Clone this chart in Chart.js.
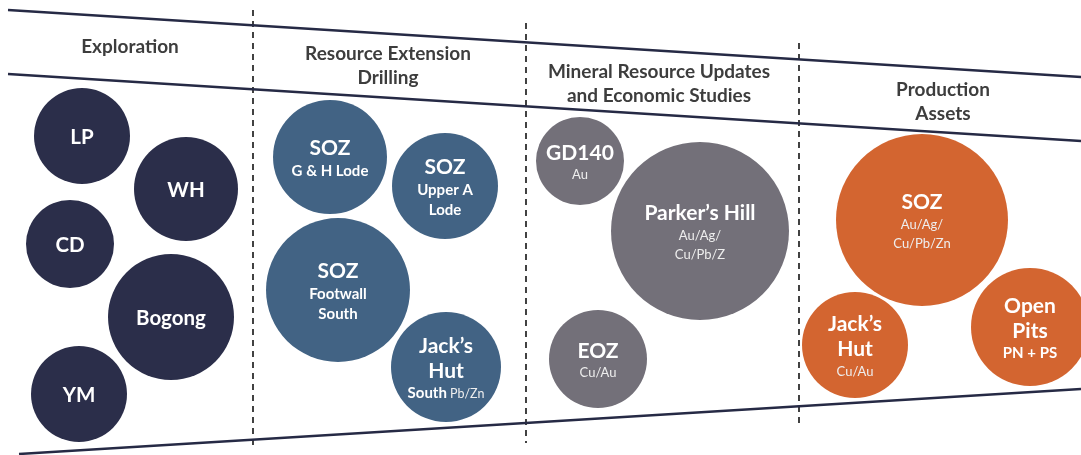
<!DOCTYPE html>
<html>
<head>
<meta charset="utf-8">
<script src="https://cdn.jsdelivr.net/npm/chart.js@4"></script>
<style>
  html, body { margin: 0; padding: 0; background: #ffffff; }
  #wrap { width: 1081px; height: 455px; position: relative; }
</style>
</head>
<body>
<div id="wrap"><canvas id="pipelineChart"></canvas></div>
<script>
// Stage headers
const stages = ['Exploration', 'Resource Extension Drilling', 'Mineral Resource Updates and Economic Studies', 'Production Assets'];
const stageLines = [['Exploration'], ['Resource Extension', 'Drilling'], ['Mineral Resource Updates', 'and Economic Studies'], ['Production', 'Assets']];

// Project bubbles (x, y in chart units, r = bubble size)
const projects = ['LP', 'WH', 'CD', 'Bogong', 'YM',
  'SOZ G & H Lode', 'SOZ Upper A Lode', 'SOZ Footwall South', 'Jack’s Hut South',
  'GD140', 'Parker’s Hill', 'EOZ',
  'SOZ', 'Jack’s Hut', 'Open Pits'];
const projectStage = [0, 0, 0, 0, 0, 1, 1, 1, 1, 2, 2, 2, 3, 3, 3];
const projectX = [82, 186, 70, 171, 79, 330, 445, 338, 446, 580, 700, 598, 922, 855, 1030];
const projectY = [136, 189, 244, 317, 394, 157, 186, 290, 367, 161, 231, 359, 220, 345, 327];
const projectR = [48, 52, 44, 63, 48, 57, 53, 72, 55, 44, 89, 49, 86, 53, 59];

// Text inside each bubble: [text, kind]
const projectText = [
  [['LP', 'name']],
  [['WH', 'name']],
  [['CD', 'name']],
  [['Bogong', 'name']],
  [['YM', 'name']],
  [['SOZ', 'title'], ['G & H Lode', 'sub']],
  [['SOZ', 'title'], ['Upper A', 'sub'], ['Lode', 'sub']],
  [['SOZ', 'title'], ['Footwall', 'sub'], ['South', 'sub']],
  [['Jack’s', 'title'], ['Hut', 'title'], [['South', 'sub'], [' Pb/Zn', 'small']]],
  [['GD140', 'title'], ['Au', 'light']],
  [['Parker’s Hill', 'title'], ['Au/Ag/', 'light'], ['Cu/Pb/Z', 'light']],
  [['EOZ', 'title'], ['Cu/Au', 'light']],
  [['SOZ', 'title'], ['Au/Ag/', 'light'], ['Cu/Pb/Zn', 'light']],
  [['Jack’s', 'title'], ['Hut', 'title'], ['Cu/Au', 'light']],
  [['Open', 'title'], ['Pits', 'title'], ['PN + PS', 'sub']]
];

// Frame lines (two header rules, bottom rule) and stage dividers
const ruleTopX = [8, 1081], ruleTopY = [10, 77];
const ruleMidX = [8, 1081], ruleMidY = [74, 141];
const ruleBotX = [19, 1081], ruleBotY = [454, 389];
const dividerX = [253, 526, 799];
const dividerTop = [10, 23, 43];
const dividerBottom = [448, 443, 424];

const stageColors = ['#2b2e4a', '#426384', '#737079', '#d36530'];
const headerPos = { x: [130, 388, 659, 943], y: [47, 54, 72, 90], gap: 24 };
const fontFamily = 'Lato, "Open Sans", sans-serif';
const textStyles = {
  name:  { font: 'bold 20.5px ' + fontFamily, h: 20, color: '#ffffff' },
  title: { font: 'bold 21px ' + fontFamily, h: 25, color: '#ffffff' },
  sub:   { font: 'bold 15px ' + fontFamily, h: 20, color: '#ffffff' },
  light: { font: '13px ' + fontFamily, h: 19, color: '#eeeeee' },
  small: { font: '12.5px ' + fontFamily, h: 19, color: '#eeeeee' }
};

function pts(xs, ys) {
  return xs.map((x, i) => ({ x: x, y: ys[i] }));
}

const datasets = [];
[[ruleTopX, ruleTopY], [ruleMidX, ruleMidY], [ruleBotX, ruleBotY]].forEach(r => {
  datasets.push({
    type: 'line', data: pts(r[0], r[1]), borderColor: '#262a45', borderWidth: 2.5,
    pointRadius: 0, fill: false, order: 2
  });
});
dividerX.forEach((x, i) => {
  datasets.push({
    type: 'line', data: [{ x: x, y: dividerTop[i] }, { x: x, y: dividerBottom[i] }],
    borderColor: '#2e2e2e', borderWidth: 1.8, borderDash: [6, 5],
    pointRadius: 0, fill: false, order: 2
  });
});
stages.forEach((s, si) => {
  const idx = projects.map((p, i) => i).filter(i => projectStage[i] === si);
  datasets.push({
    type: 'bubble',
    label: s,
    data: idx.map(i => ({ x: projectX[i], y: projectY[i], r: projectR[i] })),
    backgroundColor: stageColors[si],
    borderColor: stageColors[si],
    borderWidth: 0,
    order: 1
  });
});

// Draws headers and bubble text
const labelPlugin = {
  id: 'labels',
  afterDatasetsDraw(chart) {
    const ctx = chart.ctx;
    const sx = chart.scales.x, sy = chart.scales.y;
    ctx.save();
    ctx.textAlign = 'center';
    ctx.textBaseline = 'middle';
    ctx.fillStyle = '#3d3d3d';
    ctx.font = 'bold 19px ' + fontFamily;
    stageLines.forEach((lines, si) => {
      lines.forEach((t, li) => {
        ctx.fillText(t, sx.getPixelForValue(headerPos.x[si]), sy.getPixelForValue(headerPos.y[si] + li * headerPos.gap));
      });
    });

    projectText.forEach((lines, i) => {
      const cx = sx.getPixelForValue(projectX[i]);
      const cy = sy.getPixelForValue(projectY[i]);
      const heights = lines.map(l => textStyles[Array.isArray(l[0]) ? l[0][1] : l[1]].h);
      const total = heights.reduce((a, b) => a + b, 0);
      let y = cy - total / 2 + 1.5;
      lines.forEach((l, li) => {
        const yy = y + heights[li] / 2;
        if (Array.isArray(l[0])) {
          // mixed segments on one line
          let widths = l.map(seg => { ctx.font = textStyles[seg[1]].font; return ctx.measureText(seg[0]).width; });
          let x = cx - widths.reduce((a, b) => a + b, 0) / 2;
          ctx.textAlign = 'left';
          l.forEach((seg, k) => {
            ctx.font = textStyles[seg[1]].font;
            ctx.fillStyle = textStyles[seg[1]].color;
            ctx.fillText(seg[0], x, yy);
            x += widths[k];
          });
          ctx.textAlign = 'center';
        } else {
          const st = textStyles[l[1]];
          ctx.font = st.font;
          ctx.fillStyle = st.color;
          ctx.fillText(l[0], cx, yy);
        }
        y += heights[li];
      });
    });
    ctx.restore();
  }
};

new Chart(document.getElementById('pipelineChart'), {
  type: 'bubble',
  data: { datasets: datasets },
  options: {
    responsive: true,
    maintainAspectRatio: false,
    animation: false,
    layout: { padding: 0, autoPadding: false },
    scales: {
      x: { type: 'linear', min: 0, max: 1081, display: false },
      y: { type: 'linear', min: 0, max: 455, reverse: true, display: false }
    },
    plugins: {
      legend: { display: false },
      tooltip: { enabled: false }
    }
  },
  plugins: [labelPlugin]
});
</script>
</body>
</html>
